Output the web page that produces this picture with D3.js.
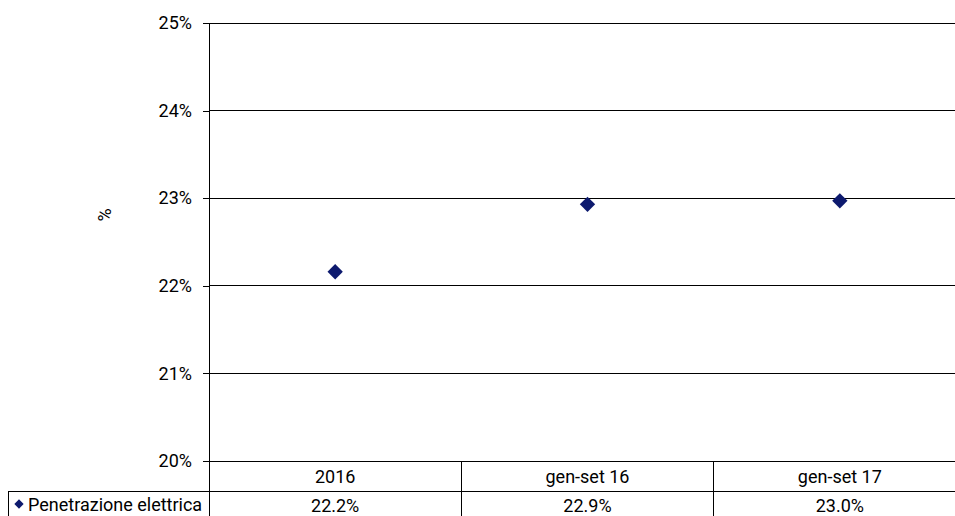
<!DOCTYPE html>
<html><head><meta charset="utf-8">
<script src="https://cdn.jsdelivr.net/npm/d3@7/dist/d3.min.js"></script>
<style>body{margin:0;background:#fff}svg{display:block;font-family:Roboto,sans-serif}</style>
</head><body><svg id="c" width="955" height="516"></svg>
<script>
const categories = ["2016", "gen-set 16", "gen-set 17"];
const values = [22.16, 22.93, 22.97];
const valueLabels = ["22.2%", "22.9%", "23.0%"];
const yTicks = [20, 21, 22, 23, 24, 25];
const seriesName = "Penetrazione elettrica";
const yTitle = "%";

const svg = d3.select("#c");
const L = 209, R = 966, T = 23, B = 461;
const x = d3.scaleBand().domain(categories).range([L, R]);
const y = d3.scaleLinear().domain([20, 25]).range([B, T]);
const color = "#0d1a6e";
const fs = 18;

// gridlines
svg.append("g").selectAll("line").data(yTicks).join("line")
  .attr("x1", L).attr("x2", 955).attr("y1", d => y(d)).attr("y2", d => y(d))
  .attr("stroke", "#000").attr("stroke-width", 1).attr("shape-rendering", "crispEdges");

// y axis
const yAxis = d3.axisLeft(y).tickValues(yTicks).tickSize(6).tickPadding(11).tickFormat(d => d + "%");
const ga = svg.append("g").attr("transform", `translate(${L},0)`).call(yAxis);
ga.select(".domain").attr("stroke", "#000").attr("shape-rendering", "crispEdges");
ga.selectAll(".tick line").attr("stroke", "#000").attr("shape-rendering", "crispEdges");
ga.selectAll("text").attr("font-size", fs).attr("font-family", "Roboto").attr("fill", "#000");

svg.append("text").attr("transform", "translate(106,215) rotate(-90)")
  .attr("text-anchor", "middle").attr("dominant-baseline", "middle")
  .attr("font-size", fs).text(yTitle);

// markers
svg.append("g").selectAll("path").data(values).join("path")
  .attr("d", d3.symbol(d3.symbolDiamond2, 150)())
  .attr("transform", (d, i) => `translate(${x(categories[i]) + x.bandwidth()/2},${y(d)})`)
  .attr("fill", color);

// data table
const rowY = 491, bot = 516;
const tg = svg.append("g").attr("shape-rendering", "crispEdges").attr("stroke", "#000");
tg.append("line").attr("x1", 8).attr("x2", 955).attr("y1", rowY).attr("y2", rowY);
tg.append("line").attr("x1", 8).attr("x2", 8).attr("y1", rowY).attr("y2", bot);
tg.selectAll(".v").data(categories).join("line")
  .attr("x1", d => x(d)).attr("x2", d => x(d)).attr("y1", B).attr("y2", bot);

svg.append("g").selectAll("text").data(categories).join("text")
  .attr("x", d => x(d) + x.bandwidth()/2).attr("y", 483)
  .attr("text-anchor", "middle").attr("font-size", fs).text(d => d);
svg.append("g").selectAll("text").data(valueLabels).join("text")
  .attr("x", (d, i) => x(categories[i]) + x.bandwidth()/2).attr("y", 512)
  .attr("text-anchor", "middle").attr("font-size", fs).text(d => d);

svg.append("path").attr("d", d3.symbol(d3.symbolDiamond2, 55)())
  .attr("transform", "translate(19,504)").attr("fill", color);
svg.append("text").attr("x", 28).attr("y", 511).attr("font-size", fs).text(seriesName);
</script></body></html>
